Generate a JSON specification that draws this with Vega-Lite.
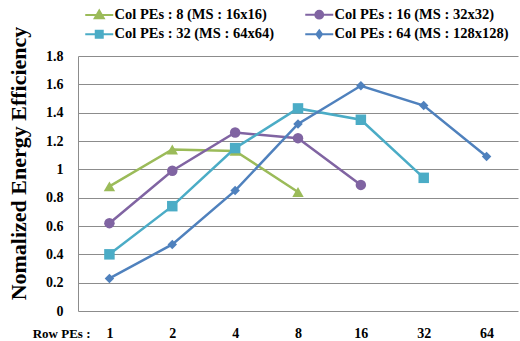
{
  "$schema": "https://vega.github.io/schema/vega-lite/v6.json",
  "width": 440,
  "height": 255,
  "autosize": {"type": "none"},
  "padding": {"left": 78, "top": 56, "right": 2, "bottom": 30},
  "background": "white",
  "config": {
    "font": "Liberation Serif",
    "view": {"stroke": null},
    "axis": {"labelColor": "black", "titleColor": "black"}
  },
  "data": {
    "values": [
      {"row": "1", "series": "Col PEs : 8 (MS : 16x16)", "eff": 0.88},
      {"row": "2", "series": "Col PEs : 8 (MS : 16x16)", "eff": 1.14},
      {"row": "4", "series": "Col PEs : 8 (MS : 16x16)", "eff": 1.13},
      {"row": "8", "series": "Col PEs : 8 (MS : 16x16)", "eff": 0.84},
      {"row": "1", "series": "Col PEs : 16 (MS : 32x32)", "eff": 0.62},
      {"row": "2", "series": "Col PEs : 16 (MS : 32x32)", "eff": 0.99},
      {"row": "4", "series": "Col PEs : 16 (MS : 32x32)", "eff": 1.26},
      {"row": "8", "series": "Col PEs : 16 (MS : 32x32)", "eff": 1.22},
      {"row": "16", "series": "Col PEs : 16 (MS : 32x32)", "eff": 0.89},
      {"row": "1", "series": "Col PEs : 32 (MS : 64x64)", "eff": 0.40},
      {"row": "2", "series": "Col PEs : 32 (MS : 64x64)", "eff": 0.74},
      {"row": "4", "series": "Col PEs : 32 (MS : 64x64)", "eff": 1.15},
      {"row": "8", "series": "Col PEs : 32 (MS : 64x64)", "eff": 1.43},
      {"row": "16", "series": "Col PEs : 32 (MS : 64x64)", "eff": 1.35},
      {"row": "32", "series": "Col PEs : 32 (MS : 64x64)", "eff": 0.94},
      {"row": "1", "series": "Col PEs : 64 (MS : 128x128)", "eff": 0.23},
      {"row": "2", "series": "Col PEs : 64 (MS : 128x128)", "eff": 0.47},
      {"row": "4", "series": "Col PEs : 64 (MS : 128x128)", "eff": 0.85},
      {"row": "8", "series": "Col PEs : 64 (MS : 128x128)", "eff": 1.32},
      {"row": "16", "series": "Col PEs : 64 (MS : 128x128)", "eff": 1.59},
      {"row": "32", "series": "Col PEs : 64 (MS : 128x128)", "eff": 1.45},
      {"row": "64", "series": "Col PEs : 64 (MS : 128x128)", "eff": 1.09}
    ]
  },
  "encoding": {
    "x": {
      "field": "row",
      "type": "ordinal",
      "sort": ["1", "2", "4", "8", "16", "32", "64"],
      "scale": {"type": "point", "padding": 0.5},
      "axis": {
        "labelAngle": 0,
        "domain": false,
        "ticks": false,
        "labelFont": "Liberation Serif",
        "labelFontWeight": "bold",
        "labelFontSize": 14,
        "labelPadding": 15,
        "title": "Row PEs :",
        "titleFont": "Liberation Serif",
        "titleFontWeight": "bold",
        "titleFontSize": 13,
        "titleAlign": "right",
        "titleBaseline": "middle",
        "titleAnchor": null,
        "titleX": 12,
        "titleY": 22
      }
    },
    "y": {
      "field": "eff",
      "type": "quantitative",
      "scale": {"domain": [0, 1.8], "nice": false},
      "axis": {
        "values": [0, 0.2, 0.4, 0.6, 0.8, 1, 1.2, 1.4, 1.6, 1.8],
        "format": ".1~f",
        "grid": true,
        "gridColor": "#8c8c8c",
        "gridWidth": 1,
        "domain": true,
        "domainColor": "#8c8c8c",
        "ticks": false,
        "labelFont": "Liberation Serif",
        "labelFontWeight": "bold",
        "labelFontSize": 14,
        "labelPadding": 15,
        "title": "Nomalized Energy Efficiency",
        "titleFont": "Liberation Serif",
        "titleFontWeight": "bold",
        "titleFontSize": 22,
        "titleAngle": -90,
        "titleAlign": "center",
        "titleBaseline": "middle",
        "titleAnchor": null,
        "titleX": -60,
        "titleY": 107
      }
    },
    "color": {
      "field": "series",
      "type": "nominal",
      "scale": {
        "domain": ["Col PEs : 8 (MS : 16x16)", "Col PEs : 16 (MS : 32x32)", "Col PEs : 32 (MS : 64x64)", "Col PEs : 64 (MS : 128x128)"],
        "range": ["#9BBB59", "#8064A2", "#4BACC6", "#4F81BD"]
      },
      "legend": null
    }
  },
  "layer": [
    {
      "mark": {"type": "line", "strokeWidth": 2.5},
      "encoding": {
        "color": {
          "field": "series",
          "type": "nominal",
          "legend": {
            "orient": "none",
            "legendX": 14,
            "legendY": -49,
            "columns": 2,
            "direction": "horizontal",
            "columnPadding": 27,
            "rowPadding": 3,
            "padding": 0,
            "title": null,
            "symbolSize": 100,
            "symbolStrokeWidth": 2,
            "labelOffset": 8,
            "labelFont": "Liberation Serif",
            "labelFontWeight": "bold",
            "labelFontSize": 14.5,
            "labelColor": "black",
            "labelLimit": 300,
            "encode": {
              "symbols": {
                "update": {
                  "shape": {"signal": "indexof(datum.value, ': 8 ') > 0 ? 'M-2.8,0H2.8M0,-0.9L0.9,0.62L-0.9,0.62Z' : indexof(datum.value, ': 16 ') > 0 ? 'M-2.8,0H2.8M-0.78,0A0.78,0.78 0 1,0 0.78,0A0.78,0.78 0 1,0 -0.78,0Z' : indexof(datum.value, ': 32 ') > 0 ? 'M-2.8,0H2.8M-0.7,-0.7H0.7V0.7H-0.7Z' : 'M-2.8,0H2.8M0,-0.78L0.56,0L0,0.78L-0.56,0Z'"},
                  "size": {"value": 100},
                  "fill": {"signal": "scale('color', datum.value)"},
                  "stroke": {"signal": "scale('color', datum.value)"},
                  "strokeWidth": {"value": 2},
                  "opacity": {"value": 1}
                }
              }
            }
          }
        }
      }
    },
    {
      "transform": [{"filter": "datum.series == 'Col PEs : 8 (MS : 16x16)'"}],
      "mark": {"type": "point", "filled": true, "size": 130, "opacity": 1, "shape": "triangle-up"}
    },
    {
      "transform": [{"filter": "datum.series == 'Col PEs : 16 (MS : 32x32)'"}],
      "mark": {"type": "point", "filled": true, "size": 110, "opacity": 1, "shape": "circle"}
    },
    {
      "transform": [{"filter": "datum.series == 'Col PEs : 32 (MS : 64x64)'"}],
      "mark": {"type": "point", "filled": true, "size": 110, "opacity": 1, "shape": "square"}
    },
    {
      "transform": [{"filter": "datum.series == 'Col PEs : 64 (MS : 128x128)'"}],
      "mark": {"type": "point", "filled": true, "size": 90, "opacity": 1, "shape": "diamond"}
    }
  ]
}
